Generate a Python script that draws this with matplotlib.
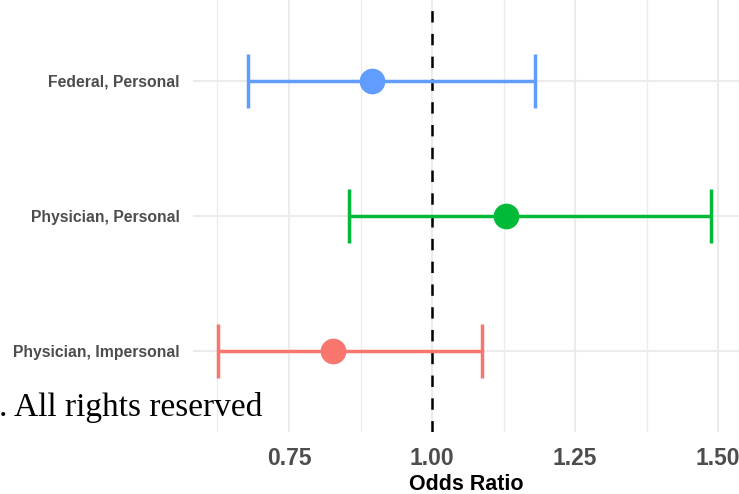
import matplotlib
matplotlib.use("Agg")
import matplotlib.pyplot as plt

# Odds ratios with 95% confidence intervals
categories = ["Physician, Impersonal", "Physician, Personal", "Federal, Personal"]
odds_ratio = [0.827, 1.129, 0.895]
ci_low = [0.626, 0.855, 0.678]
ci_high = [1.087, 1.488, 1.180]
colors = ["#F8766D", "#00BA38", "#619CFF"]

x_major = [0.75, 1.00, 1.25, 1.50]
x_minor = [0.625, 0.875, 1.125, 1.375]
x_labels = ["0.75", "1.00", "1.25", "1.50"]

plt.rcParams["font.family"] = ["Liberation Sans", "DejaVu Sans"]
plt.rcParams["lines.scale_dashes"] = False

fig = plt.figure(figsize=(7.39, 4.94), dpi=100)
ax = fig.add_axes([193 / 739, 62 / 494, 546 / 739, 432 / 494])

px_per_unit = 572.0
x_left = 1.0 - (432 - 193) / px_per_unit
x_right = 1.0 + (739 - 432) / px_per_unit
ax.set_xlim(x_left, x_right)
ax.set_ylim(0.4, len(categories) + 0.6)

# background grid
grid_col = "#EBEBEB"
for xm in x_minor:
    ax.axvline(xm, color=grid_col, lw=0.9, zorder=0)
for xm in x_major:
    ax.axvline(xm, color=grid_col, lw=1.5, zorder=0)
ypos = list(range(1, len(categories) + 1))
for y in ypos:
    ax.axhline(y, color=grid_col, lw=1.5, zorder=0)

# reference line at OR = 1
ax.axvline(1.0, color="black", lw=1.8, linestyle=(0, (8.2, 8.2)), zorder=2)

cap_half = 0.2
for y, m, lo, hi, c in zip(ypos, odds_ratio, ci_low, ci_high, colors):
    ax.plot([lo, hi], [y, y], color=c, lw=2.5, solid_capstyle="butt", zorder=3)
    ax.plot([lo, lo], [y - cap_half, y + cap_half], color=c, lw=2.5,
            solid_capstyle="butt", zorder=3)
    ax.plot([hi, hi], [y - cap_half, y + cap_half], color=c, lw=2.5,
            solid_capstyle="butt", zorder=3)
    ax.plot([m], [y], marker="o", markersize=18.5, color=c,
            markeredgewidth=0, zorder=4)

ax.set_xticks(x_major)
ax.set_xticklabels(x_labels)
ax.set_yticks(ypos)
ax.set_yticklabels(categories)
ax.tick_params(axis="both", length=0)
ax.tick_params(axis="x", labelsize=16.5, labelcolor="#4D4D4D", pad=10.5)
ax.tick_params(axis="y", labelsize=11.3, labelcolor="#4D4D4D", pad=9.6)
for lab in ax.get_xticklabels() + ax.get_yticklabels():
    lab.set_fontweight("bold")

ax.set_xlabel("Odds Ratio", fontsize=15.5, fontweight="bold", color="black",
              labelpad=3.5)

for s in ax.spines.values():
    s.set_visible(False)
ax.set_facecolor("white")

fig.text(-1 / 739, (494 - 416) / 494, ". All rights reserved",
         family=["Liberation Serif", "DejaVu Serif"], fontsize=24,
         color="black", ha="left", va="baseline", zorder=10)

fig.savefig("out.png", dpi=100, facecolor="white")
